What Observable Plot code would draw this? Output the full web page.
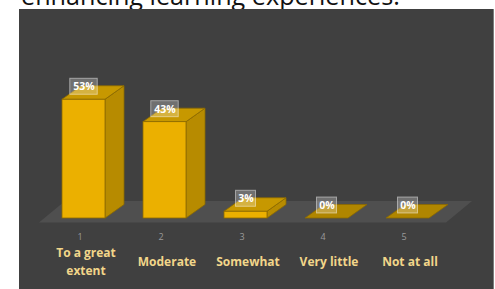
<!DOCTYPE html>
<html>
<head>
<meta charset="utf-8">
<script src="https://cdn.jsdelivr.net/npm/d3@7"></script>
<script src="https://cdn.jsdelivr.net/npm/@observablehq/plot@0.6"></script>
<style>
  html, body { margin: 0; padding: 0; background: #ffffff; }
  #page { position: relative; width: 495px; height: 289px; overflow: hidden; background: #ffffff; }
  #title { position: absolute; left: 21px; top: -17.5px; font-family: "Open Sans", sans-serif; font-size: 25.2px; line-height: 24px; color: #111; white-space: nowrap; }
  #chart { position: absolute; left: 19px; top: 9px; }
  #chart svg { display: block; border-right: 1px solid #7d7d7d; }
</style>
</head>
<body>
<div id="page">
  <div id="title">enhancing learning experiences.</div>
  <div id="chart"></div>
</div>
<script>
const categories = ["To a great\nextent", "Moderate", "Somewhat", "Very little", "Not at all"];
const scaleNumbers = ["1", "2", "3", "4", "5"];
const percents = [53, 43, 3, 0, 0];

const data = categories.map((c, i) => ({cat: c, num: scaleNumbers[i], value: percents[i], label: percents[i] + "%"}));

const DX = 19, DY = -13.5;

function bandOf(x) {
  return typeof x.bandwidth === "function" ? x.bandwidth() : (x.bandwidth ?? 44);
}
function poly(g, pts, fill, stroke) {
  g.append("polygon")
    .attr("points", pts.map(p => p.join(",")).join(" "))
    .attr("fill", fill)
    .attr("stroke", stroke)
    .attr("stroke-width", 0.8)
    .attr("stroke-linejoin", "round");
}

function faces(index, scales) {
  const {x, y} = scales;
  const bw = bandOf(x);
  const g = d3.create("svg:g");
  const y0 = y(0);
  const left = x(categories[0]) - 23, right = x(categories[categories.length - 1]) + bw + 17;
  const fy = y0 + 4.5, by = y0 - 17, fdx = 26;
  poly(g, [[left, fy], [right, fy], [right + fdx, by], [left + fdx, by]], "#4f4f4f", "none");
  for (const d of data) {
    const x0 = x(d.cat), x1 = x0 + bw, yt = y(d.value), yb = y0;
    if (d.value > 0) {
      poly(g, [[x1, yb], [x1 + DX, yb + DY], [x1 + DX, yt + DY], [x1, yt]], "#b78b00", "#8c6a00");
      poly(g, [[x0, yt], [x1, yt], [x1 + DX, yt + DY], [x0 + DX, yt + DY]], "#c79800", "#8c6a00");
    } else {
      poly(g, [[x0, yt], [x1, yt], [x1 + DX, yt + DY], [x0 + DX, yt + DY]], "#b08600", "#8c6a00");
    }
  }
  return g.node();
}

function boxes(index, scales) {
  const {x, y} = scales;
  const bw = bandOf(x);
  const g = d3.create("svg:g");
  for (const d of data) {
    const cx = x(d.cat) + bw / 2;
    const cy = y(d.value) - 13;
    const w = 7.5 * d.label.length + 5, h = 16;
    g.append("rect")
      .attr("x", cx - w / 2).attr("y", cy - h / 2)
      .attr("width", w).attr("height", h)
      .attr("fill", "rgba(255,255,255,0.25)")
      .attr("stroke", "rgba(255,255,255,0.45)")
      .attr("stroke-width", 1);
  }
  return g.node();
}

const chart = Plot.plot({
  width: 474,
  height: 280,
  margin: 0,
  style: {background: "#404040", fontFamily: "'Open Sans', sans-serif", overflow: "visible"},
  x: {domain: categories, range: [41, 413], paddingInner: 0.463, paddingOuter: 0, axis: null},
  y: {domain: [0, 60], range: [209, 74.6], axis: null},
  marks: [
    faces,
    Plot.barY(data, {x: "cat", y: "value", fill: "#ebb000", stroke: "#8c6a00", strokeWidth: 0.8}),
    boxes,
    Plot.text(data, {x: "cat", y: "value", text: "label", dy: -13, fill: "#ffffff", fontWeight: "bold", fontSize: 10.5}),
    Plot.text(data, {x: "cat", y: () => 0, text: "num", dy: 19, dx: -4, fill: "#9a9a9a", fontSize: 9}),
    Plot.text(data, {x: "cat", y: () => 0, text: "cat", dy: 42, dx: 2, fill: "#f2d68a", fontWeight: "bold", fontSize: 12, lineHeight: 1.45})
  ]
});
document.getElementById("chart").appendChild(chart);
</script>
</body>
</html>
